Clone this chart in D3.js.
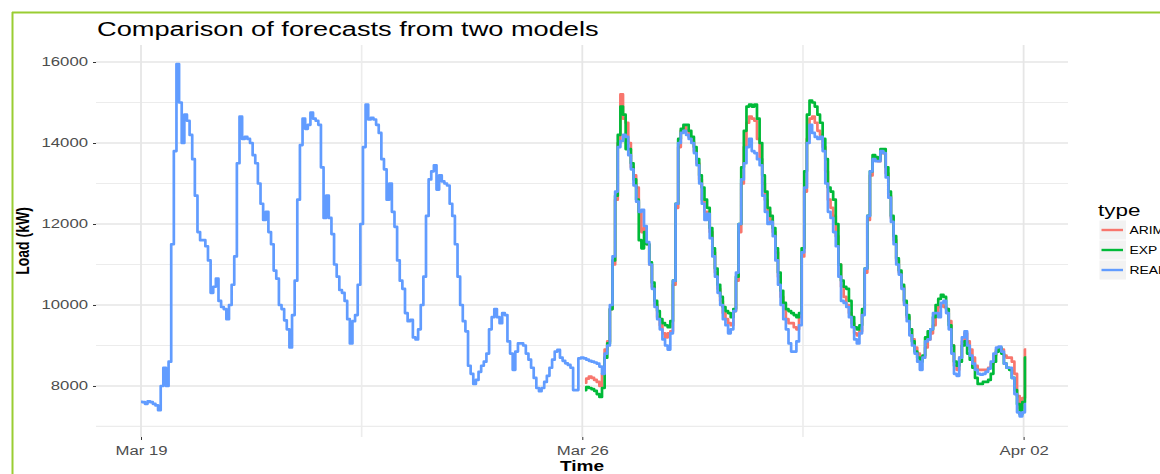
<!DOCTYPE html>
<html>
<head>
<meta charset="utf-8">
<script src="https://cdn.jsdelivr.net/npm/d3@7"></script>
<style>
  body { margin: 0; background: #fff; }
  svg { display: block; font-family: "Liberation Sans", Arial, sans-serif; }
</style>
</head>
<body>
<svg id="chart" width="1160" height="474"></svg>
<script>
// hourly load (kW)
const realStart = "2017-03-19T00:00Z";
const forecastStart = "2017-03-26T01:00Z";

const realLoad = [
  7610, 7600, 7560, 7620, 7600, 7560, 7520, 7400, 8000, 8450, 8000, 8600, 11500, 13800, 15950, 15000, 14000, 14700, 14550, 14200, 13600, 12700, 11800, 11600,
  11600, 11450, 11100, 10300, 10450, 10650, 10100, 9950, 9900, 9650, 10000, 10500, 11200, 13500, 14650, 14100, 14150, 14100, 14000, 13700, 13500, 13000, 12500, 12100,
  12300, 11800, 11500, 10850, 10650, 10000, 9900, 9620, 9400, 8950, 9750, 10600, 12600, 13950, 14600, 14350, 14450, 14750, 14600, 14550, 14450, 13400, 12150, 12700,
  12150, 11750, 11000, 10700, 10370, 10300, 10100, 9650, 9050, 9600, 9750, 10500, 12000, 13900, 14950, 14580, 14620, 14580, 14450, 14250, 13600, 13350, 12600, 13000,
  12300, 11930, 11100, 10600, 10400, 9800, 9600, 9630, 9200, 9150, 9400, 10000, 10700, 12200, 13100, 13300, 13450, 12850, 13200, 13050, 13000, 12950, 12500, 12200,
  11500, 10700, 10000, 9600, 9350, 8500, 8300, 8050, 8150, 8350, 8500, 8600, 8800, 9400, 9700, 9900, 9700, 9550, 9800, 9750, 9100, 8800, 8400, 8850,
  9050, 9050, 9000, 8800, 8650, 8450, 8200, 7950, 7870, 7950, 8100, 8250, 8450, 8650, 8850, 8890, 8700, 8620, 8560, 8520, 8450, 7900, 7900, 8680,
  8700, 8680, 8650, 8620, 8600, 8580, 8550, 8480, 8300, 8800, 9000, 10000, 11200, 12800, 13900, 14050, 14200, 14150, 13700, 13350, 12950, 12550, 12300, 12350,
  11950, 11550, 11000, 10400, 9950, 9650, 9400, 9150, 9000, 8900, 9300, 10600, 12500, 14000, 14250, 14300, 14200, 14100, 14000, 13750, 13450, 13000, 12500, 12100,
  12250, 11650, 11200, 10700, 10300, 10000, 9650, 9500, 9300, 9400, 9850, 10800, 12000, 13100, 13500, 13900, 14100, 13800, 13750, 13600, 13450, 12700, 12300, 12000,
  12050, 11700, 11100, 10500, 10000, 9650, 9400, 9050, 8850, 8850, 9100, 9500, 11300, 12900, 14000, 14450, 14250, 14150, 14100, 14150, 13800, 13000, 12300, 12150,
  11800, 11450, 10700, 10100, 10050, 9950, 9700, 9450, 9150, 9050, 9300, 9750, 10900, 12200, 13300, 13600, 13550, 13550, 13800, 13750, 13150, 12650, 12050, 11500,
  11000, 10750, 10400, 10000, 9600, 9250, 9000, 8800, 8600, 8400, 8700, 9100, 9150, 9400, 9800, 9800, 9700, 10050, 10100, 9800, 9400, 8800, 8300, 8250,
  8700, 9200, 9350, 9000, 8750, 8550, 8400, 8300, 8280, 8300, 8350, 8430, 8600, 8800, 8950, 8970, 8850, 8550, 8450, 8450, 8200, 7800, 7350, 7250,
  7350, 7550
];

const arimaLoad = [
  8080, 8180, 8230, 8200, 8150, 8100, 8000, 8300, 8900, 9100, 9900, 11000, 12600, 14000, 15200, 14600, 14500, 14000, 13400, 13200, 12900, 12300, 11800,
  11900, 11500, 11000, 10450, 10000, 9700, 9500, 9300, 9200, 9300, 9350, 10500, 12400, 13900, 14300, 14400, 14300, 14150, 14050, 13800, 13500, 13100, 12600, 12300,
  12300, 11800, 11300, 10800, 10400, 10100, 9800, 9650, 9550, 9500, 9850, 10600, 11800, 13000, 13900, 14500, 14650, 14600, 14550, 14100, 13600, 13000, 12600, 12300,
  12100, 11800, 11300, 10700, 10200, 9900, 9650, 9550, 9550, 9450, 9400, 9700, 11200, 12800, 14100, 14600, 14650, 14500, 14300, 14200, 13900, 13300, 12600, 12400,
  12200, 11700, 11000, 10450, 10200, 10000, 9800, 9550, 9300, 9250, 9350, 9800, 10800, 12100, 13200, 13600, 13600, 13550, 13750, 13750, 13250, 12700, 12150, 11600,
  11100, 10800, 10450, 10050, 9700, 9400, 9150, 8950, 8800, 8650, 8700, 8950, 9150, 9300, 9500, 9800, 9950, 10000, 9950, 9900, 9600, 9000, 8500, 8400,
  8700, 9100, 9300, 9100, 8900, 8700, 8500, 8400, 8400, 8400, 8400, 8450, 8550, 8750, 8900, 8950, 8900, 8750, 8700, 8700, 8600, 8300, 7750, 7450,
  7700, 8900
];

const expLoad = [
  7900, 7970, 7950, 7920, 7880, 7800, 7730, 7950, 8700, 9050, 9900, 11100, 12700, 14200, 14900, 14700, 13850, 13850, 13500, 13100, 12600, 11600, 11400,
  11800, 11500, 11050, 10550, 10100, 9850, 9650, 9550, 9500, 9450, 9600, 10600, 12500, 14100, 14350, 14450, 14450, 14300, 14150, 13900, 13600, 13200, 12900, 12600,
  12400, 11900, 11400, 10900, 10500, 10200, 9950, 9850, 9800, 9700, 9900, 10700, 12000, 13400, 14300, 14900, 14950, 14900, 14950, 14600, 14000, 13200, 12800, 12400,
  12200, 11900, 11400, 10800, 10350, 10050, 9900, 9850, 9800, 9750, 9700, 9800, 11400, 13300, 14700, 15050, 15000, 14900, 14700, 14500, 14100, 13600, 12900, 12800,
  12600, 12000, 11000, 10600, 10450, 10400, 10100, 9700, 9450, 9400, 9500, 9900, 10900, 12200, 13300, 13700, 13650, 13600, 13850, 13850, 13400, 12800, 12200, 11700,
  11150, 10850, 10500, 10100, 9750, 9400, 9100, 8850, 8700, 8600, 8750, 9200, 9350, 9400, 9700, 10000, 10150, 10250, 10200, 9900, 9500, 9000, 8600, 8500,
  8600, 9000, 9100, 8800, 8650, 8450, 8200, 8050, 8050, 8100, 8100, 8150, 8300, 8600, 8850, 8950, 8800, 8550, 8450, 8400, 8200, 7900, 7550, 7300,
  7600, 8700
];

const seriesNames = ["ARIMA", "EXP", "REAL"];
const seriesColors = ["#F8766D", "#00BA38", "#619CFF"];

const yTicks = [8000, 10000, 12000, 14000, 16000];
const yMinorTicks = [7000, 9000, 11000, 13000, 15000];
const xTicks = ["2017-03-19T00:00Z", "2017-03-26T00:00Z", "2017-04-02T00:00Z"];
const xMinorTicks = ["2017-03-22T12:00Z", "2017-03-29T12:00Z"];

// the picture is stretched sideways, so text gets the same stretch
const sx = 1.36;
const hour = 3600 * 1000;
const panel = { left: 96, right: 1068, top: 45, bottom: 437 };

const svg = d3.select("#chart");
svg.append("rect").attr("width", 1160).attr("height", 474).attr("fill", "#fff");

const t0 = Date.parse(realStart);
const x = d3.scaleUtc()
  .domain([new Date(t0 - 17.13 * hour), new Date(t0 + 352.9 * hour)])
  .range([panel.left, panel.right]);
const y = d3.scaleLinear()
  .domain([6740, 16420])
  .range([panel.bottom, panel.top]);

// gridlines
const grid = svg.append("g");
grid.selectAll(".ymin").data(yMinorTicks).enter().append("line")
  .attr("x1", panel.left).attr("x2", panel.right)
  .attr("y1", d => y(d)).attr("y2", d => y(d))
  .attr("stroke", "#ececec").attr("stroke-width", 1.2);
grid.selectAll(".ymaj").data(yTicks).enter().append("line")
  .attr("x1", panel.left).attr("x2", panel.right)
  .attr("y1", d => y(d)).attr("y2", d => y(d))
  .attr("stroke", "#e6e6e6").attr("stroke-width", 1.4);
grid.selectAll(".xmin").data(xMinorTicks).enter().append("line")
  .attr("x1", d => x(new Date(d))).attr("x2", d => x(new Date(d)))
  .attr("y1", panel.top).attr("y2", panel.bottom)
  .attr("stroke", "#ececec").attr("stroke-width", 1.6);
grid.selectAll(".xmaj").data(xTicks).enter().append("line")
  .attr("x1", d => x(new Date(d))).attr("x2", d => x(new Date(d)))
  .attr("y1", panel.top).attr("y2", panel.bottom)
  .attr("stroke", "#e6e6e6").attr("stroke-width", 1.8);

// axes
const yAxis = svg.append("g")
  .attr("transform", "translate(" + panel.left + ",0)")
  .call(d3.axisLeft(y).tickValues(yTicks).tickSize(3).tickFormat(d3.format("d")));
yAxis.select(".domain").remove();
yAxis.selectAll("line").attr("stroke", "#333").attr("stroke-width", 1);
yAxis.selectAll("text")
  .attr("x", 0)
  .attr("transform", "translate(-8,0) scale(" + sx + ",1)")
  .attr("fill", "#4d4d4d")
  .style("font-size", "12.3px")
  .style("font-family", "Liberation Sans, Arial, sans-serif");

const xAxis = svg.append("g")
  .attr("transform", "translate(0," + panel.bottom + ")")
  .call(d3.axisBottom(x).tickValues(xTicks.map(d => new Date(d))).tickSize(3).tickPadding(6.3)
    .tickFormat(d3.utcFormat("%b %d")));
xAxis.select(".domain").remove();
xAxis.selectAll("line").attr("stroke", "#333").attr("stroke-width", 1);
xAxis.selectAll("text")
  .attr("transform", "scale(" + sx + ",1)")
  .attr("fill", "#4d4d4d")
  .style("font-size", "12.3px")
  .style("font-family", "Liberation Sans, Arial, sans-serif");

// series
const toPoints = (start, values) => values.map((v, i) => ({ t: new Date(Date.parse(start) + i * hour), v: v }));
const series = [
  { name: seriesNames[0], color: seriesColors[0], points: toPoints(forecastStart, arimaLoad) },
  { name: seriesNames[1], color: seriesColors[1], points: toPoints(forecastStart, expLoad) },
  { name: seriesNames[2], color: seriesColors[2], points: toPoints(realStart, realLoad) }
];

// hourly steps give the jagged look of the original
const line = d3.line()
  .curve(d3.curveStep)
  .x(d => x(d.t))
  .y(d => y(d.v));

svg.append("g").selectAll("path")
  .data(series)
  .enter()
  .append("path")
  .attr("d", d => line(d.points))
  .attr("fill", "none")
  .attr("stroke", d => d.color)
  .attr("stroke-width", 2.7)
  .attr("stroke-linejoin", "round");

// titles
svg.append("text")
  .attr("transform", "translate(97,36) scale(" + sx + ",1)")
  .style("font-size", "20px")
  .attr("fill", "#000")
  .text("Comparison of forecasts from two models");

svg.append("text")
  .attr("transform", "translate(" + ((panel.left + panel.right) / 2) + ",471) scale(" + sx + ",1)")
  .attr("text-anchor", "middle")
  .style("font-size", "14px")
  .style("font-weight", "bold")
  .text("Time");

svg.append("text")
  .attr("transform", "translate(29," + ((panel.top + panel.bottom) / 2) + ") scale(" + sx + ",1) rotate(-90)")
  .attr("text-anchor", "middle")
  .style("font-size", "14px")
  .style("font-weight", "bold")
  .text("Load (kW)");

// legend
const legend = svg.append("g");
legend.append("text")
  .attr("transform", "translate(1098,216) scale(" + sx + ",1)")
  .style("font-size", "16.5px")
  .text("type");

const keys = legend.selectAll(".key")
  .data(series)
  .enter()
  .append("g")
  .attr("transform", (d, i) => "translate(1099.5," + (220.5 + i * 20) + ")");
keys.append("rect")
  .attr("width", 26.5).attr("height", 19)
  .attr("fill", "#f2f2f2");
keys.append("line")
  .attr("x1", 2).attr("x2", 23.5)
  .attr("y1", 9.5).attr("y2", 9.5)
  .attr("stroke", d => d.color)
  .attr("stroke-width", 2.4);
keys.append("text")
  .attr("transform", "translate(30,9.5) scale(" + sx + ",1)")
  .attr("dy", "0.35em")
  .style("font-size", "10.2px")
  .text(d => d.name);

// frame edge from the original screenshot
svg.append("line").attr("x1", 12).attr("x2", 1160).attr("y1", 12.5).attr("y2", 12.5)
  .attr("stroke", "#9acd32").attr("stroke-width", 2);
svg.append("line").attr("x1", 12.5).attr("x2", 12.5).attr("y1", 12).attr("y2", 474)
  .attr("stroke", "#9acd32").attr("stroke-width", 2);
</script>
</body>
</html>
